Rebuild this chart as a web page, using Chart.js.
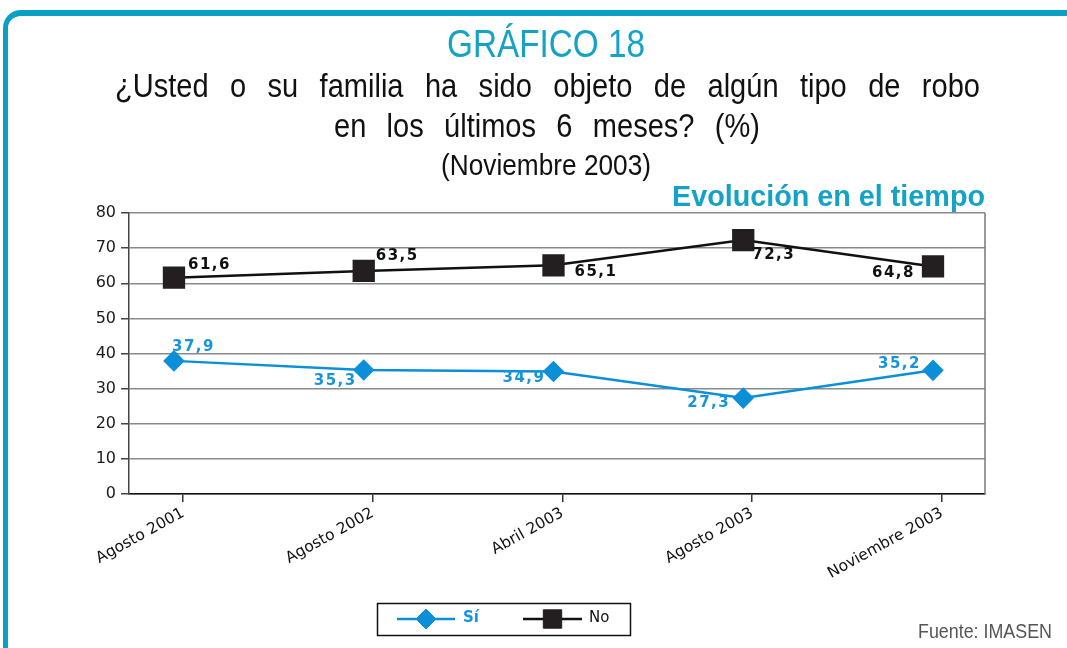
<!DOCTYPE html>
<html>
<head>
<meta charset="utf-8">
<script src="https://cdn.jsdelivr.net/npm/chart.js@4/dist/chart.umd.min.js"></script>
<style>
  body { margin: 0; background: #fff; }
  #wrap { position: relative; width: 1067px; height: 648px; overflow: hidden; }
  #frame { position: absolute; left: 3px; top: 10px; width: 1120px; height: 720px;
           border-top: 6px solid #0aa0c6; border-left: 5px solid #0aa0c6; border-top-left-radius: 18px; }
  .t { position: absolute; white-space: nowrap; font-family: "Liberation Sans", Arial, sans-serif;
       line-height: 1; transform-origin: 0 0; }
  canvas { position: absolute; left: 0; top: 0; }
</style>
</head>
<body>
<div id="wrap">
  <div id="frame"></div>
  <canvas id="chart" width="1067" height="648"></canvas>
</div>
<script>
// categories and series
const categories = ['Agosto 2001', 'Agosto 2002', 'Abril 2003', 'Agosto 2003', 'Noviembre 2003'];
const siValues = [37.9, 35.3, 34.9, 27.3, 35.2];
const noValues = [61.6, 63.5, 65.1, 72.3, 64.8];
const yTickValues = [0, 10, 20, 30, 40, 50, 60, 70, 80];

// where each value label sits relative to its point: [dx, dy, align]
const siLabelOffsets = [[-2, -14, 'left'], [-7, 11, 'right'], [-8, 7, 'right'], [-13, 5, 'right'], [-12, -6, 'right']];
const noLabelOffsets = [[14, -13, 'left'], [12, -15, 'left'], [21, 7, 'left'], [9, 15, 'left'], [-18, 7, 'right']];

const blue = '#0b8fd9';
const cyan = '#14a2c6';

// heading texts
const textLines = [
  { text: 'GRÁFICO 18', x0: 447, x1: 645, base: 57, size: 39, color: cyan },
  { text: '¿Usted o su familia ha sido objeto de algún tipo de robo', x0: 115, x1: 980, base: 97, size: 33, color: '#111', justify: true },
  { text: 'en los últimos 6 meses? (%)', x0: 334, x1: 760, base: 137, size: 33, color: '#111', justify: true },
  { text: '(Noviembre 2003)', x0: 441, x1: 651, base: 176, size: 29, color: '#111' },
  { text: 'Evolución en el tiempo', x0: 672, x1: 985, base: 207, size: 29, color: cyan, bold: true },
  { text: 'Fuente: IMASEN', x0: 918, x1: 1052, base: 638, size: 21, color: '#555' }
];

const wrap = document.getElementById('wrap');
textLines.forEach(l => {
  const el = document.createElement('div');
  el.className = 't';
  el.textContent = l.text;
  el.style.fontSize = l.size + 'px';
  el.style.color = l.color;
  if (l.bold) el.style.fontWeight = 'bold';
  el.style.left = l.x0 + 'px';
  el.style.top = (l.base - 0.8465 * l.size) + 'px';
  wrap.appendChild(el);
  if (l.justify) {
    const s = 0.88;
    el.style.width = ((l.x1 - l.x0) / s) + 'px';
    el.style.textAlign = 'justify';
    el.style.textAlignLast = 'justify';
    el.style.transform = 'scaleX(' + s + ')';
  } else {
    const w = el.getBoundingClientRect().width;
    el.style.transform = 'scaleX(' + ((l.x1 - l.x0) / w) + ')';
  }
});

// value labels next to each point
const valueLabels = {
  id: 'valueLabels',
  afterDatasetsDraw(chart) {
    const ctx = chart.ctx;
    ctx.save();
    ctx.font = 'bold 15px "DejaVu Sans", sans-serif';
    ctx.letterSpacing = '1.5px';
    ctx.textBaseline = 'middle';
    chart.data.datasets.forEach((ds, di) => {
      const meta = chart.getDatasetMeta(di);
      meta.data.forEach((pt, i) => {
        const off = ds.labelOffsets[i];
        ctx.fillStyle = ds.labelColor;
        ctx.textAlign = off[2];
        ctx.fillText(ds.data[i].y.toFixed(1).replace('.', ','), pt.x + off[0], pt.y + off[1]);
      });
    });
    ctx.restore();
  }
};

// right border of the plot
const plotBorder = {
  id: 'plotBorder',
  beforeDatasetsDraw(chart) {
    const a = chart.chartArea, ctx = chart.ctx;
    ctx.save();
    ctx.strokeStyle = '#777';
    ctx.lineWidth = 1.5;
    ctx.beginPath();
    ctx.moveTo(a.right, a.top);
    ctx.lineTo(a.right, a.bottom);
    ctx.stroke();
    ctx.restore();
  }
};

// boxed legend under the chart
const boxLegend = {
  id: 'boxLegend',
  afterDraw(chart) {
    const ctx = chart.ctx;
    ctx.save();
    ctx.strokeStyle = '#111';
    ctx.lineWidth = 1.5;
    ctx.strokeRect(377.5, 603.5, 253, 32);
    const items = [
      { ds: chart.data.datasets[0], x0: 397, x1: 455, tx: 463, r: 10, font: 'bold 15px "DejaVu Sans", sans-serif' },
      { ds: chart.data.datasets[1], x0: 523, x1: 582, tx: 589, r: 13, font: '15px "DejaVu Sans", sans-serif' }
    ];
    const y = 619;
    items.forEach(it => {
      ctx.strokeStyle = it.ds.borderColor;
      ctx.lineWidth = it.ds.borderWidth;
      ctx.beginPath();
      ctx.moveTo(it.x0, y);
      ctx.lineTo(it.x1, y);
      ctx.stroke();
      ctx.fillStyle = it.ds.pointBackgroundColor;
      ctx.strokeStyle = it.ds.pointBackgroundColor;
      ctx.lineWidth = 1;
      Chart.helpers.drawPoint(ctx, { pointStyle: it.ds.pointStyle, radius: it.r, borderWidth: 1, rotation: 0 }, (it.x0 + it.x1) / 2, y);
      ctx.fillStyle = it.ds.labelColor;
      ctx.font = it.font;
      ctx.textBaseline = 'middle';
      ctx.textAlign = 'left';
      ctx.fillText(it.ds.label, it.tx, y - 1);
    });
    ctx.restore();
  }
};

new Chart(document.getElementById('chart'), {
  type: 'line',
  data: {
    datasets: [
      {
        label: 'Sí',
        data: siValues.map((v, i) => ({ x: i, y: v })),
        borderColor: blue,
        borderWidth: 2.5,
        pointStyle: 'rectRot',
        pointRadius: 9,
        pointBackgroundColor: blue,
        pointBorderColor: blue,
        labelColor: '#1795dc',
        labelOffsets: siLabelOffsets,
        xAxisID: 'x'
      },
      {
        label: 'No',
        data: noValues.map((v, i) => ({ x: i, y: v })),
        borderColor: '#111',
        borderWidth: 2.5,
        pointStyle: 'rect',
        pointRadius: 14,
        pointBackgroundColor: '#231f20',
        pointBorderColor: '#231f20',
        labelColor: '#111',
        labelOffsets: noLabelOffsets,
        xAxisID: 'x'
      }
    ]
  },
  options: {
    responsive: false,
    animation: false,
    layout: { padding: { top: 213, right: 82, left: 0, bottom: 0 } },
    plugins: { legend: { display: false }, tooltip: { enabled: false }, title: { display: false } },
    scales: {
      x: {
        type: 'linear', display: false, min: -0.237, max: 4.274
      },
      xt: {
        type: 'linear', position: 'bottom', min: -0.285, max: 4.227,
        afterBuildTicks(scale) { scale.ticks = categories.map((c, i) => ({ value: i })); },
        afterFit(scale) { scale.height = 154; },
        grid: { drawOnChartArea: false, drawTicks: true, tickLength: 8, color: '#333', lineWidth: 1.5 },
        border: { color: '#111', width: 1.5 },
        ticks: {
          autoSkip: false, minRotation: 29, maxRotation: 29, padding: 2,
          color: '#111', font: { family: 'DejaVu Sans', size: 15.5 },
          callback: v => categories[v]
        }
      },
      y: {
        min: 0, max: 80,
        afterBuildTicks(scale) { scale.ticks = yTickValues.map(v => ({ value: v })); },
        afterFit(scale) { scale.width = 129; },
        grid: { color: '#8a8a8a', lineWidth: 1.5, tickLength: 8, tickColor: '#444' },
        border: { color: '#444', width: 1.5 },
        ticks: { padding: 5, color: '#1a1a1a', font: { family: 'DejaVu Sans', size: 16 } }
      }
    }
  },
  plugins: [plotBorder, valueLabels, boxLegend]
});
</script>
</body>
</html>
